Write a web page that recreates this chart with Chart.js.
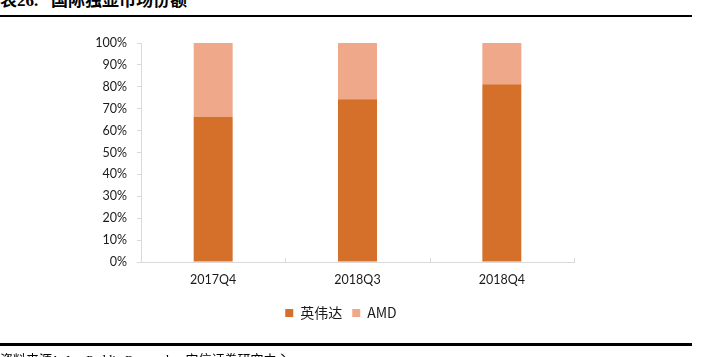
<!DOCTYPE html>
<html>
<head>
<meta charset="utf-8">
<script src="https://cdn.jsdelivr.net/npm/chart.js@4/dist/chart.umd.min.js"></script>
<style>
  html, body { margin:0; padding:0; background:#fff; }
  body { width:703px; height:357px; position:relative; overflow:hidden; }
  #wrap { position:absolute; left:0; top:0; width:703px; height:357px; }
  .title { position:absolute; left:0; top:-14px; font-family:"Liberation Serif","Noto Sans CJK SC",serif; font-weight:bold; font-size:17px; color:#000; white-space:nowrap; }
  .rule1 { position:absolute; left:0; top:15px; width:692px; height:2px; background:#000; }
  .rule2 { position:absolute; left:0; top:343px; width:692px; height:3px; background:#000; }
  .src { position:absolute; left:0; top:352px; font-family:"Liberation Serif","Noto Sans CJK SC",serif; font-size:13px; line-height:15px; color:#000; white-space:nowrap; }
</style>
</head>
<body>
<div class="title">表26.&nbsp;&nbsp;&nbsp;国际独显市场份额</div>
<div class="rule1"></div>
<div id="wrap"><canvas id="c" width="703" height="357"></canvas></div>
<div class="rule2"></div>
<div class="src">资料来源：Jon Peddie Research，安信证券研究中心</div>
<script>
const categories = ["2017Q4", "2018Q3", "2018Q4"];
const nvidiaShare = [66.3, 74.3, 81.2];
const amdShare = [33.7, 25.7, 18.8];
const seriesNames = ["英伟达", "AMD"];
const yTicksMax = 100;
const yTickStep = 10;

const innerTicks = {
  id: 'innerTicks',
  afterLayout(chart) {
    // shift legend to match reference centering
    const lg = chart.legend;
    if (lg) { lg.left += 14; lg.right += 14; }
  },
  afterDatasetsDraw(chart) {
    const xs = chart.scales.x;
    const ctx = chart.ctx;
    const n = categories.length;
    ctx.save();
    ctx.strokeStyle = '#d9d9d9';
    ctx.lineWidth = 1;
    for (let i = 1; i <= n; i++) {
      const x = Math.round(xs.left + i * xs.width / n) + 0.5;
      ctx.beginPath();
      ctx.moveTo(x, xs.top);
      ctx.lineTo(x, xs.top - 4);
      ctx.stroke();
    }
    ctx.restore();
  }
};

Chart.defaults.font.family = 'Lato, "Noto Sans CJK SC", sans-serif';
Chart.defaults.color = '#1a1a1a';

new Chart(document.getElementById('c'), {
  type: 'bar',
  data: {
    labels: categories,
    datasets: [
      { label: seriesNames[0], data: nvidiaShare, backgroundColor: '#D4702A', barPercentage: 0.27, categoryPercentage: 1 },
      { label: seriesNames[1], data: amdShare, backgroundColor: '#F0A88A', barPercentage: 0.27, categoryPercentage: 1 }
    ]
  },
  options: {
    responsive: false,
    animation: false,
    layout: { padding: { left: 80, right: 129, top: 43, bottom: 27 } },
    plugins: {
      tooltip: { enabled: false },
      legend: {
        position: 'bottom',
        labels: { boxWidth: 8, boxHeight: 8, padding: 10, font: { size: 14, family: '"Noto Sans CJK SC", Lato, sans-serif' }, color: '#1a1a1a' }
      }
    },
    scales: {
      x: {
        stacked: true,
        grid: { display: true, drawOnChartArea: false, drawTicks: false },
        border: { color: '#d9d9d9', width: 1 },
        ticks: { padding: 10, font: { size: 12.5 } },
        afterFit(s) { s.height = 34; }
      },
      y: {
        stacked: true,
        min: 0,
        max: yTicksMax,
        grid: { drawOnChartArea: false, drawTicks: true, tickLength: 4, tickColor: '#d9d9d9' },
        border: { color: '#d9d9d9', width: 1 },
        ticks: { stepSize: yTickStep, padding: 10, font: { size: 12.5 }, callback: v => v + '%' },
        afterFit(s) { s.width = 61; }
      }
    }
  },
  plugins: [innerTicks]
});
</script>
</body>
</html>
